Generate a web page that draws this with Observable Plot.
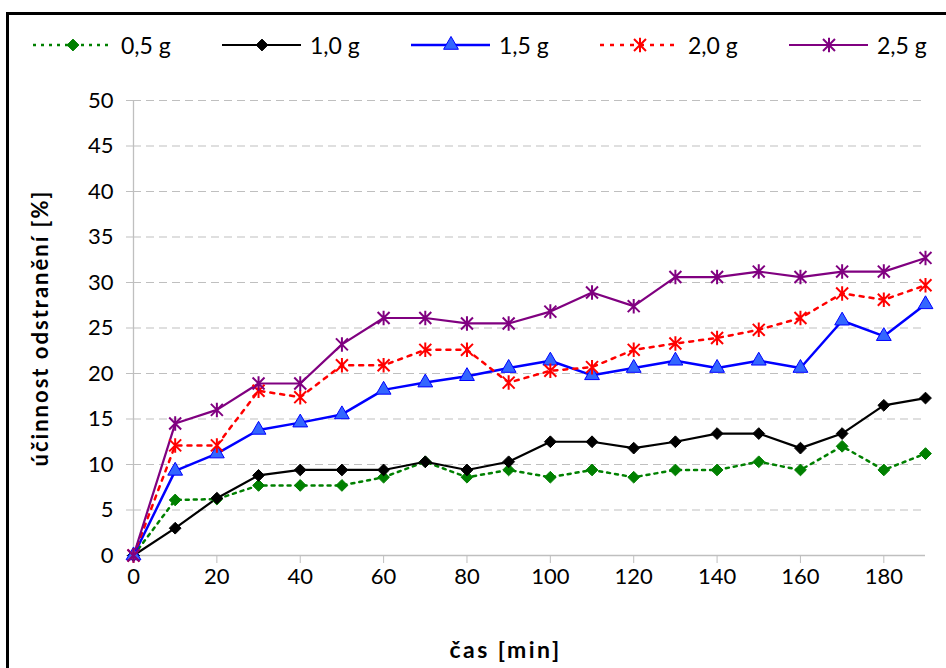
<!DOCTYPE html>
<html>
<head>
<meta charset="utf-8">
<script src="https://cdn.jsdelivr.net/npm/d3@7"></script>
<script src="https://cdn.jsdelivr.net/npm/@observablehq/plot@0.6"></script>
<style>
  html, body { margin: 0; padding: 0; background: #fff; overflow: hidden; }
  #wrap { position: relative; width: 946px; height: 668px; font-family: Lato, sans-serif; }
  #frame { position: absolute; left: 6px; top: 12px; width: 960px; height: 700px;
           border-top: 3px solid #000; border-left: 3px solid #000; box-sizing: border-box; }
  #chart { position: absolute; left: 0; top: 0; }
  .leg { position: absolute; top: 31px; height: 28px; display: flex; align-items: center; font-size: 23px; color: #000; }
  .leg svg { margin-right: 9px; }
</style>
</head>
<body>
<div id="wrap">
  <div id="frame"></div>
  <div id="chart"></div>
</div>
<script>
// ---- data ----
const times = [0, 10, 20, 30, 40, 50, 60, 70, 80, 90, 100, 110, 120, 130, 140, 150, 160, 170, 180, 190];
const seriesNames = ["0,5 g", "1,0 g", "1,5 g", "2,0 g", "2,5 g"];
const values05 = [0, 6.1, 6.2, 7.7, 7.7, 7.7, 8.6, 10.3, 8.6, 9.4, 8.6, 9.4, 8.6, 9.4, 9.4, 10.3, 9.4, 12.0, 9.4, 11.2];
const values10 = [0, 3.0, 6.3, 8.8, 9.4, 9.4, 9.4, 10.3, 9.4, 10.3, 12.5, 12.5, 11.8, 12.5, 13.4, 13.4, 11.8, 13.4, 16.5, 17.3];
const values15 = [0, 9.3, 11.2, 13.8, 14.6, 15.5, 18.2, 19.0, 19.7, 20.6, 21.4, 19.8, 20.6, 21.4, 20.6, 21.4, 20.6, 25.8, 24.1, 27.6];
const values20 = [0, 12.1, 12.1, 18.1, 17.4, 20.9, 20.9, 22.6, 22.6, 19.0, 20.3, 20.7, 22.6, 23.3, 23.9, 24.8, 26.1, 28.8, 28.1, 29.7];
const values25 = [0, 14.5, 16.0, 18.9, 18.9, 23.2, 26.1, 26.1, 25.5, 25.5, 26.8, 28.9, 27.4, 30.6, 30.6, 31.2, 30.6, 31.2, 31.2, 32.7];
const xTicks = [0, 20, 40, 60, 80, 100, 120, 140, 160, 180];
const yTicks = [0, 5, 10, 15, 20, 25, 30, 35, 40, 45, 50];
const xTitle = "čas [min]";
const yTitle = "účinnost odstranění [%]";

// star marker (X with a vertical bar), as drawn by the spreadsheet
const starSymbol = {
  draw(ctx, size) {
    const r = Math.sqrt(size / Math.PI);
    const d = r * 0.95;
    ctx.moveTo(-d, -d); ctx.lineTo(d, d);
    ctx.moveTo(-d, d); ctx.lineTo(d, -d);
    ctx.moveTo(0, -r * 1.15); ctx.lineTo(0, r * 1.15);
  }
};

const styles = [
  {values: values05, stroke: "#008000", width: 2.5, dash: "3,5", symbol: "diamond2", fill: "#008000", mstroke: "#008000", r: 5.3},
  {values: values10, stroke: "#000000", width: 2.2, dash: null, symbol: "diamond2", fill: "#000000", mstroke: "#000000", r: 5.3},
  {values: values15, stroke: "#0000ff", width: 2.5, dash: null, symbol: "triangle", fill: "#3366ff", mstroke: "#0000ff", r: 5.5},
  {values: values20, stroke: "#ff0000", width: 2.5, dash: "4,6", symbol: starSymbol, fill: "none", mstroke: "#ff0000", r: 6.3},
  {values: values25, stroke: "#800080", width: 2.2, dash: null, symbol: starSymbol, fill: "none", mstroke: "#800080", r: 6.3}
];

const marks = [
  Plot.gridY(yTicks, {stroke: "#bfbfbf", strokeOpacity: 1, strokeDasharray: "8,5"}),
  Plot.ruleX([0], {stroke: "#bfbfbf", strokeWidth: 1.3}),
  Plot.ruleY([0], {stroke: "#bfbfbf", strokeWidth: 1.3}),
  Plot.axisX(xTicks, {tickSize: 8, tickPadding: 5, stroke: "#bfbfbf", fill: "#000", label: null, tickFormat: d => String(d), fontSize: 22}),
  Plot.axisY(yTicks, {tickSize: 7, tickPadding: 13, stroke: "#bfbfbf", fill: "#000", label: null, tickFormat: d => String(d), fontSize: 22}),
  Plot.text([xTitle], {frameAnchor: "bottom", textAnchor: "middle", lineAnchor: "middle", dy: 95, dx: -24, fontWeight: "bold", fontSize: 23, fill: "#000"}),
  Plot.text([yTitle], {frameAnchor: "left", textAnchor: "middle", lineAnchor: "middle", dx: -93, rotate: -90, fontWeight: "bold", fontSize: 22, fill: "#000"})
];

styles.forEach((s, i) => {
  const data = times.map((t, j) => ({t, v: s.values[j], series: seriesNames[i]}));
  marks.push(Plot.line(data, {x: "t", y: "v", stroke: s.stroke, strokeWidth: s.width,
    strokeDasharray: s.dash || undefined, strokeLinejoin: "round"}));
});
styles.forEach((s, i) => {
  const data = times.map((t, j) => ({t, v: s.values[j], series: seriesNames[i]}));
  marks.push(Plot.dot(data, {x: "t", y: "v", symbol: s.symbol, r: s.r, fill: s.fill,
    stroke: s.mstroke, strokeWidth: s.fill === "none" ? 2 : 1}));
});

const chart = Plot.plot({
  width: 946,
  height: 668,
  marginLeft: 133,
  marginRight: 21,
  marginTop: 100,
  marginBottom: 113,
  style: {fontFamily: "Lato, sans-serif", fontSize: "22px", background: "transparent", color: "#000"},
  x: {domain: [0, 190], axis: null, label: null},
  y: {domain: [0, 50], axis: null, label: null},
  marks
});
document.getElementById("chart").appendChild(chart);

// letter spacing for the bold axis titles
d3.select(chart).selectAll("text").each(function () {
  const t = this.textContent;
  if (t === xTitle) this.style.letterSpacing = "2.5px";
  if (t === yTitle) this.style.letterSpacing = "2px";
});

// ---- legend ----
const wrap = document.getElementById("wrap");
styles.forEach((s, i) => {
  const item = document.createElement("div");
  item.className = "leg";
  item.style.left = (33 + i * 189) + "px";
  const sw = d3.create("svg").attr("width", 79).attr("height", 28);
  sw.append("line").attr("x1", 0).attr("x2", 79).attr("y1", 14).attr("y2", 14)
    .attr("stroke", s.stroke).attr("stroke-width", s.width)
    .attr("stroke-dasharray", s.dash);
  const sym = s.symbol === "diamond2" ? d3.symbolDiamond2 : s.symbol === "triangle" ? d3.symbolTriangle : starSymbol;
  sw.append("path").attr("transform", "translate(40,14)")
    .attr("d", d3.symbol(sym, Math.PI * s.r * s.r)())
    .attr("fill", s.fill).attr("stroke", s.mstroke)
    .attr("stroke-width", s.fill === "none" ? 2 : 1);
  item.appendChild(sw.node());
  const label = document.createElement("span");
  label.textContent = seriesNames[i];
  item.appendChild(label);
  wrap.appendChild(item);
});
</script>
</body>
</html>
